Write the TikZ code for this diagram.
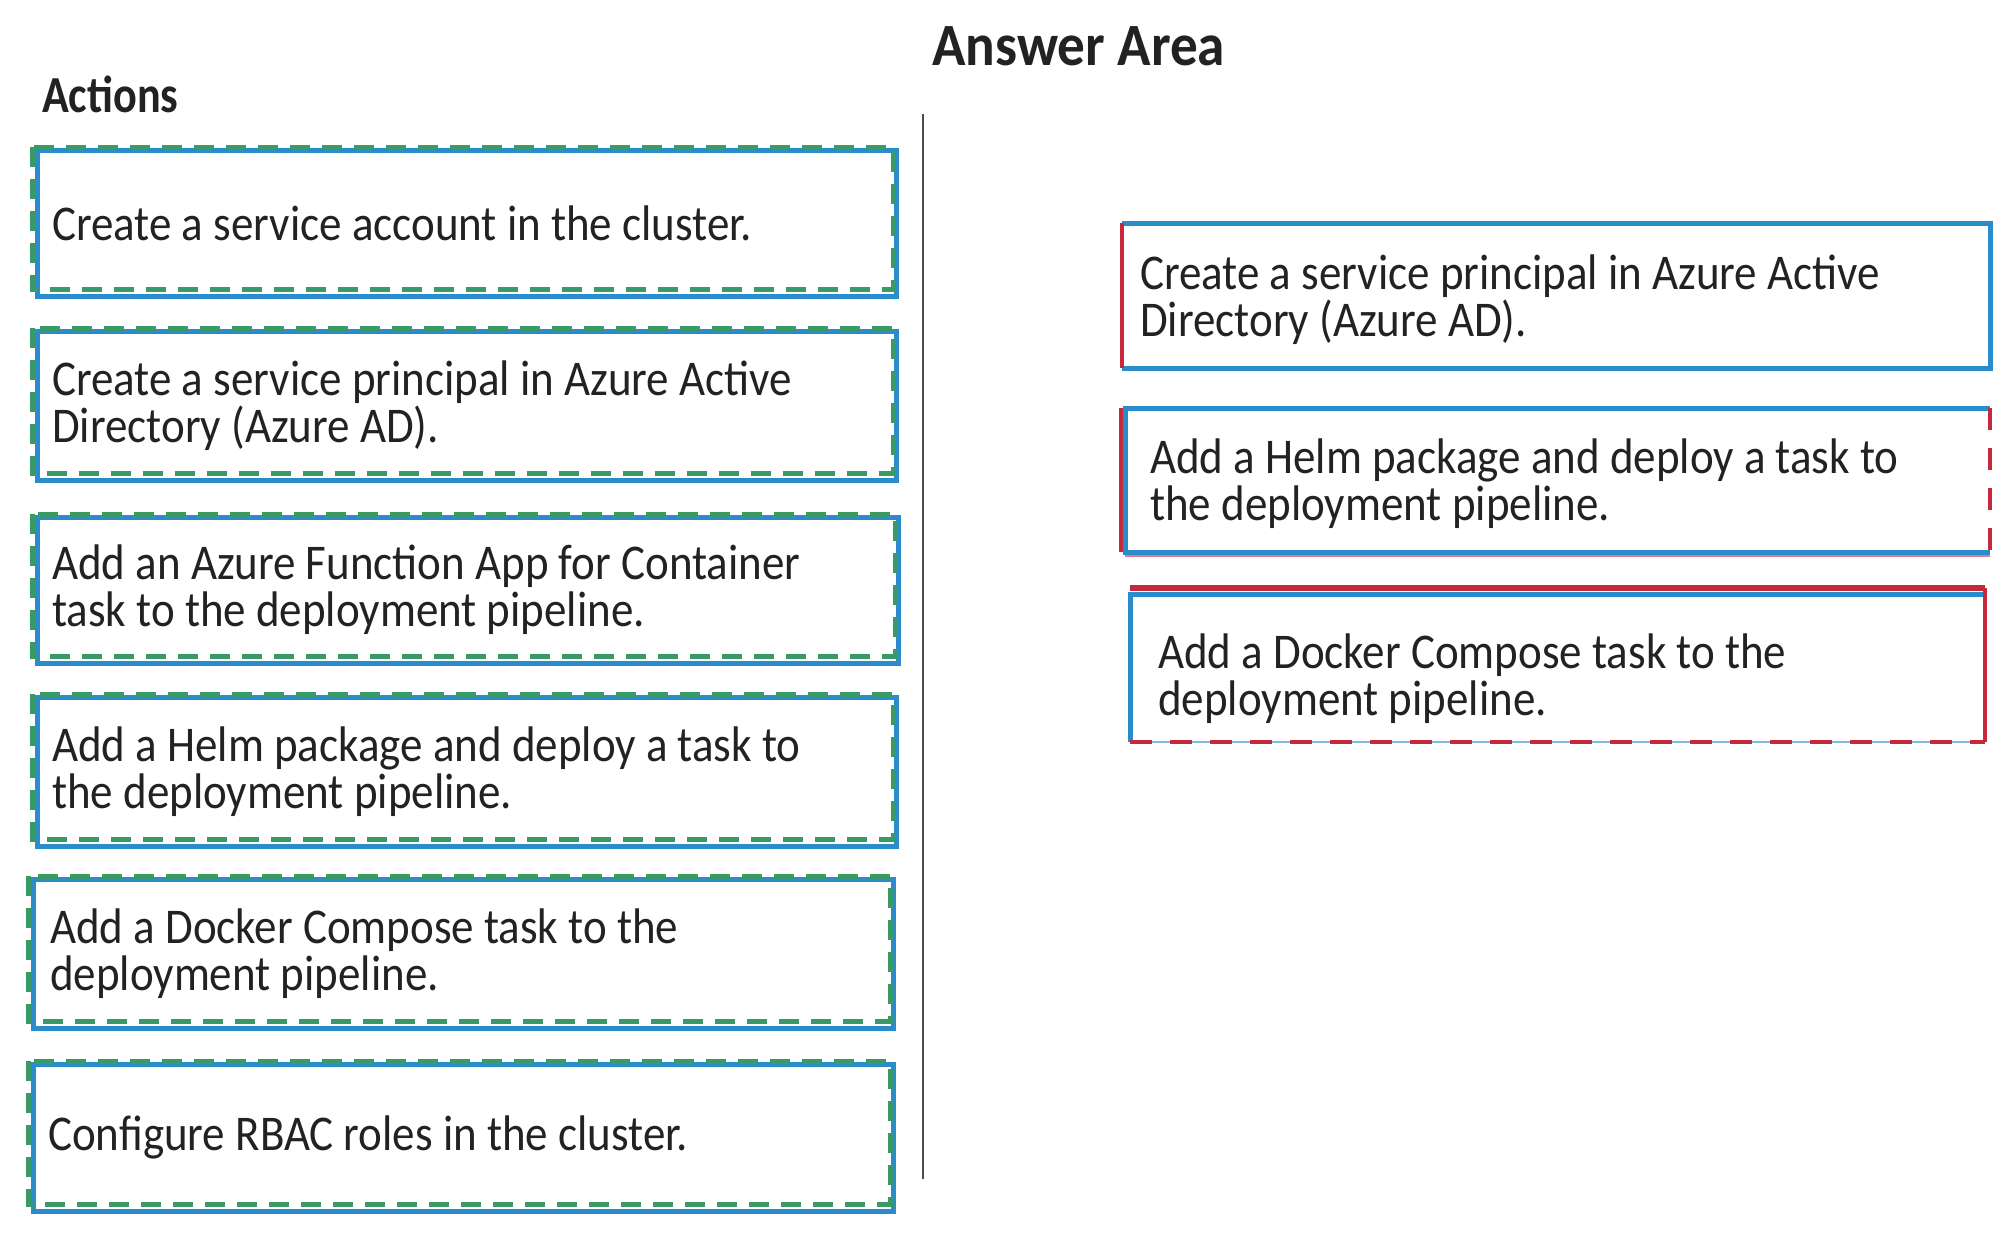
\documentclass[tikz,border=0pt]{standalone}
\usepackage{fontspec}
\setmainfont{Carlito}[FakeStretch=0.9]
\newfontfamily\actfont{Carlito}[FakeStretch=0.85]
\newfontfamily\ansfont{Carlito}[FakeStretch=0.92]
\definecolor{bx}{HTML}{2A8CCB}
\definecolor{gd}{HTML}{3A9A66}
\definecolor{rd}{HTML}{C42A3C}
\definecolor{tx}{HTML}{222222}
\begin{document}
\begin{tikzpicture}[x=1pt,y=-1pt,
  body/.style={font=\fontsize{50}{47}\selectfont, align=left, anchor=west, inner sep=0pt, text=tx},
  slot/.style={rectangle, inner sep=0pt, outer sep=0pt},
  bluebox/.style={slot, draw=bx, line width=5pt},
  blueline/.style={draw=bx, line width=5pt},
  greendash/.style={draw=gd, line width=5pt, dash pattern=on 20pt off 12pt},
  redline/.style={draw=rd, line width=3.5pt},
  reddash/.style={draw=rd, line width=3.5pt, dash pattern=on 22pt off 18pt},
  divider/.style={draw=black!70, line width=2.5pt}
]
\useasboundingbox[fill=white] (0,0) rectangle (2012,1250);

% headings
\node[anchor=base west, inner sep=0pt, text=tx, font=\actfont\bfseries\fontsize{52}{52}\selectfont] (act) at (42,112) {Actions};
\node[anchor=base west, inner sep=0pt, text=tx, font=\ansfont\bfseries\fontsize{60}{60}\selectfont] (ans) at (932,65) {Answer Area};

% divider
\coordinate (vtop) at (923,114);
\coordinate (vbot) at (923,1179);
\draw[divider] (vtop) -- (vbot);

% left boxes
\node[bluebox, minimum width=859pt, minimum height=146pt] (b1) at (466.5,223) {};
\node[bluebox, minimum width=859pt, minimum height=149pt] (b2) at (466.5,405.5) {};
\node[bluebox, minimum width=861pt, minimum height=146pt] (b3) at (467.5,590) {};
\node[bluebox, minimum width=859pt, minimum height=149pt] (b4) at (466.5,771.5) {};
\node[bluebox, minimum width=860pt, minimum height=149pt] (b5) at (463,953.5) {};
\node[bluebox, minimum width=860pt, minimum height=147pt] (b6) at (463,1137.5) {};
\foreach \b in {b1,b2,b3,b4,b5,b6}{
  \draw[greendash] ([shift={(-5,-3)}]\b.north west) rectangle ([shift={(-3,-7)}]\b.south east);
}

\node[body] (t1) at (52,223) {Create a service account in the cluster.};
\node[body] (t2) at (52,405.5) {Create a service principal in Azure Active\\Directory (Azure AD).};
\node[body] (t3) at (52,590) {Add an Azure Function App for Container\\task to the deployment pipeline.};
\node[body] (t4) at (52,771.5) {Add a Helm package and deploy a task to\\the deployment pipeline.};
\node[body] (t5) at (50,953.5) {Add a Docker Compose task to the\\deployment pipeline.};
\node[body] (t6) at (48,1137.5) {Configure RBAC roles in the cluster.};

% right boxes
\node[slot, minimum width=868pt, minimum height=145pt] (r1) at (1556,295.5) {};
\node[slot, minimum width=865pt, minimum height=144pt] (r2) at (1557.5,480) {};
\node[slot, minimum width=855pt, minimum height=152pt] (r3) at (1557.5,666) {};

% r1
\draw[blueline] (r1.north west) -- (r1.north east) -- (r1.south east) -- (r1.south west);
\draw[redline] (r1.north west) -- (r1.south west);
% r2
\draw[blueline] (r2.north east) -- (r2.north west) -- (r2.south west) -- (r2.south east);
\draw[redline] ([xshift=-4pt]r2.north west) -- ([xshift=-4pt]r2.south west);
\draw[draw=rd!60, line width=1.5pt] ([yshift=-4pt]r2.south west) -- ([yshift=-4pt]r2.south east);
\draw[reddash] (r2.north east) -- (r2.south east);
% r3
\draw[blueline] ([yshift=-4pt]r3.north east) -- ([yshift=-4pt]r3.north west) -- (r3.south west);
\draw[draw=rd, line width=6pt] ([yshift=2pt]r3.north west) -- ([yshift=2pt]r3.north east);
\draw[redline] ([yshift=2pt]r3.north east) -- (r3.south east);
\draw[draw=bx!60, line width=1.5pt] (r3.south west) -- (r3.south east);
\draw[reddash] (r3.south west) -- (r3.south east);

\node[body] (rt1) at (1140,300) {Create a service principal in Azure Active\\Directory (Azure AD).};
\node[body] (rt2) at (1150,484) {Add a Helm package and deploy a task to\\the deployment pipeline.};
\node[body] (rt3) at (1158,679) {Add a Docker Compose task to the\\deployment pipeline.};
\end{tikzpicture}
\end{document}
